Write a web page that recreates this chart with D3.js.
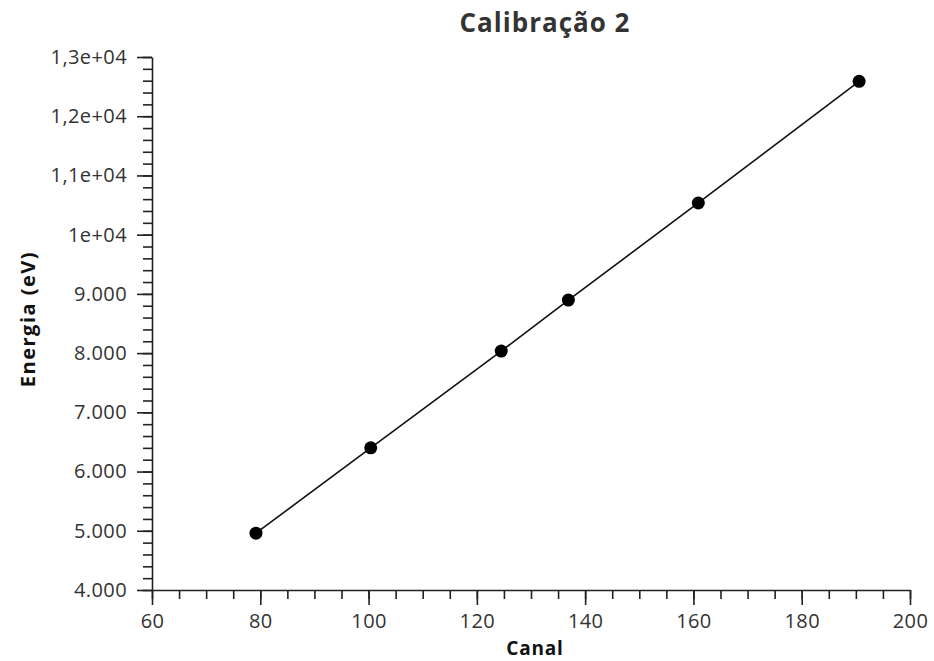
<!DOCTYPE html>
<html>
<head>
<meta charset="utf-8">
<script src="https://cdn.jsdelivr.net/npm/d3@7"></script>
<style>
  body { margin: 0; background: #fff; }
  text { font-family: "Open Sans", "DejaVu Sans", sans-serif; }
</style>
</head>
<body>
<div class="chart"></div>
<script>
// data
var canal = [79.2, 100.4, 124.5, 136.9, 160.9, 190.6];
var energia = [4960, 6400, 8035, 8895, 10535, 12590];

var xTicks = [60, 80, 100, 120, 140, 160, 180, 200];
var yTicks = [4000, 5000, 6000, 7000, 8000, 9000, 10000, 11000, 12000, 13000];
var yTickLabels = ["4.000", "5.000", "6.000", "7.000", "8.000", "9.000", "1e+04", "1,1e+04", "1,2e+04", "1,3e+04"];

var width = 934,
	height = 661;

var plotLeft = 152, plotRight = 910, plotTop = 57, plotBottom = 590;

var x = d3.scaleLinear()
	.domain([60, 200])
	.range([plotLeft, plotRight]);

var y = d3.scaleLinear()
	.domain([4000, 13000])
	.range([plotBottom, plotTop]);

var svg = d3.select(".chart")
	.append("svg")
	.attr("width", width)
	.attr("height", height);

// minor ticks first, then major axis on top
svg.append("g")
	.attr("transform", "translate(0," + plotBottom + ")")
	.call(d3.axisBottom(x).tickValues(d3.range(60, 201, 5)).tickSize(9).tickFormat(""))
	.call(function(g){ g.select(".domain").remove(); });

svg.append("g")
	.attr("transform", "translate(" + plotLeft + ",0)")
	.call(d3.axisLeft(y).tickValues(d3.range(4000, 13001, 200)).tickSize(9).tickFormat(""))
	.call(function(g){ g.select(".domain").remove(); });

var xAxis = svg.append("g")
	.attr("transform", "translate(0," + plotBottom + ")")
	.call(d3.axisBottom(x).tickValues(xTicks).tickSize(15).tickSizeOuter(0).tickPadding(9));

var yAxis = svg.append("g")
	.attr("transform", "translate(" + plotLeft + ",0)")
	.call(d3.axisLeft(y).tickValues(yTicks).tickSize(15).tickSizeOuter(0).tickPadding(10)
		.tickFormat(function(d, i){ return yTickLabels[i]; }));

svg.selectAll(".tick line, .domain")
	.style("stroke", "#222")
	.style("stroke-width", "1.6px");

xAxis.selectAll("text").style("font-size", "20px").style("letter-spacing", "0.4px").style("fill", "#333");
yAxis.selectAll("text").style("font-size", "20px").style("letter-spacing", "0.4px").style("fill", "#333");

var pts = canal.map(function(c, i){ return [c, energia[i]]; });

svg.append("path")
	.datum(pts)
	.attr("fill", "none")
	.attr("stroke", "#111")
	.attr("stroke-width", 1.6)
	.attr("d", d3.line()
		.x(function(d){ return x(d[0]); })
		.y(function(d){ return y(d[1]); }));

svg.selectAll("circle.pt")
	.data(pts)
	.enter()
	.append("circle")
	.attr("class", "pt")
	.attr("cx", function(d){ return x(d[0]); })
	.attr("cy", function(d){ return y(d[1]); })
	.attr("r", 6.5)
	.attr("fill", "#000");

svg.append("text")
	.attr("x", 545)
	.attr("y", 32)
	.attr("text-anchor", "middle")
	.style("font-size", "26px")
	.style("font-weight", "bold")
	.style("letter-spacing", "1px")
	.style("fill", "#333")
	.text("Calibração 2");

svg.append("text")
	.attr("x", 535)
	.attr("y", 655)
	.attr("text-anchor", "middle")
	.style("font-size", "19px")
	.style("font-weight", "bold")
	.style("letter-spacing", "0.8px")
	.style("fill", "#111")
	.text("Canal");

svg.append("text")
	.attr("transform", "translate(35,319) rotate(-90)")
	.attr("text-anchor", "middle")
	.style("font-size", "20px")
	.style("font-weight", "bold")
	.style("letter-spacing", "1.5px")
	.style("fill", "#111")
	.text("Energia (eV)");
</script>
</body>
</html>
